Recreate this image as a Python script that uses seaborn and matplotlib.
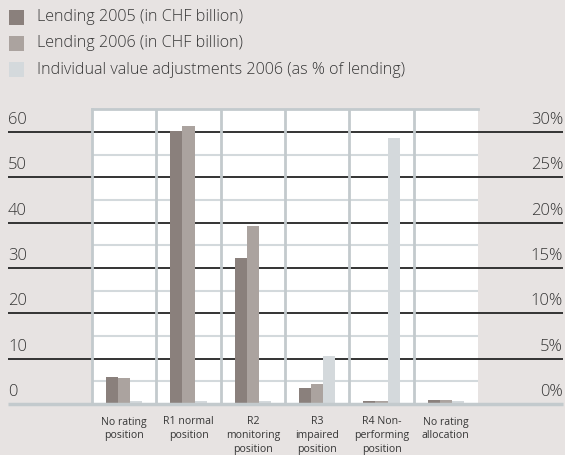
import matplotlib
matplotlib.use('Agg')
import matplotlib.pyplot as plt
import matplotlib.transforms as mtransforms
import seaborn as sns
import pandas as pd

# categories and values
categories = ['No rating\nposition', 'R1 normal\nposition', 'R2\nmonitoring\nposition',
              'R3\nimpaired\nposition', 'R4 Non-\nperforming\nposition', 'No rating\nallocation']
lending_2005 = [6.0, 60.2, 32.2, 3.6, 0.6, 0.9]      # CHF billion
lending_2006 = [5.7, 61.3, 39.3, 4.5, 0.6, 0.9]      # CHF billion
value_adj_2006 = [0.3, 0.3, 0.3, 5.3, 29.3, 0.3]     # % of lending

series_names = ['Lending 2005 (in CHF billion)',
                'Lending 2006 (in CHF billion)',
                'Individual value adjustments 2006 (as % of lending)']
left_ticks = [0, 10, 20, 30, 40, 50, 60]
right_ticks = ['0%', '5%', '10%', '15%', '20%', '25%', '30%']

colors = ['#8a807c', '#aba39f', '#d4d9dc']
bg = '#e7e3e2'
grid_col = '#c3cacd'
line_col = '#333333'
text_col = '#363636'

# one left-axis scale: 30% lines up with 60
pct_to_left = 2.0

rows = []
for i, cat in enumerate(categories):
    rows.append((cat, series_names[0], lending_2005[i]))
    rows.append((cat, series_names[1], lending_2006[i]))
    rows.append((cat, series_names[2], value_adj_2006[i] * pct_to_left))
df = pd.DataFrame(rows, columns=['category', 'series', 'value'])

sns.set_style('white')
plt.rcParams['font.family'] = ['Open Sans', 'DejaVu Sans']

W, H = 565, 455
fig = plt.figure(figsize=(W / 100, H / 100), dpi=100, facecolor=bg)
ax = fig.add_axes([92 / W, (H - 404) / H, (478 - 92) / W, (404 - 109) / H])
ax.set_facecolor('white')

sns.barplot(data=df, x='category', y='value', hue='series', order=categories,
            hue_order=series_names, palette=colors, saturation=1, width=0.56,
            gap=0, linewidth=0, ax=ax, legend=False, zorder=3)

ax.set_xlim(-0.5, len(categories) - 0.5)
ax.set_ylim(0, 65.1)
ax.set_xlabel('')
ax.set_ylabel('')
ax.set_yticks([])
ax.tick_params(axis='x', length=0, pad=9, labelsize=7.6, labelcolor=text_col)
for lab in ax.get_xticklabels():
    lab.set_linespacing(1.36)
    lab.set_va('top')

for side in ['right', 'bottom']:
    ax.spines[side].set_visible(False)
for side in ['left', 'top']:
    ax.spines[side].set_color(grid_col)
    ax.spines[side].set_linewidth(2)

# category separators and minor horizontal grid
for k in range(1, len(categories)):
    ax.axvline(k - 0.5, color=grid_col, lw=2, zorder=2.5)
for v in range(5, 65, 10):
    ax.axhline(v, color='#d3d9dc', lw=1.5, zorder=1)

# long horizontal lines across the whole figure with labels
blend = mtransforms.blended_transform_factory(fig.transFigure, ax.transData)
for v, rlab in zip(left_ticks, right_ticks):
    c = grid_col if v == 0 else line_col
    lw = 2.5 if v == 0 else 1.4
    ax.plot([8 / W, 563 / W], [v, v], transform=blend, color=c, lw=lw,
            clip_on=False, zorder=2 if v else 4, solid_capstyle='butt')
    ax.text(8 / W, v + 0.9, str(v), transform=blend, ha='left', va='bottom',
            fontsize=12, fontweight='light', color=text_col)
    ax.text(563 / W, v + 0.9, rlab, transform=blend, ha='right', va='bottom',
            fontsize=12, fontweight='light', color=text_col)

# legend at the top left
for i, (name, col) in enumerate(zip(series_names, colors)):
    yc = 1 - (17 + 26.3 * i) / H
    fig.patches.append(plt.Rectangle((9 / W, yc - 7.5 / H), 15 / W, 15 / H,
                                     transform=fig.transFigure, color=col, lw=0))
    fig.text(37 / W, yc, name, ha='left', va='center', fontsize=11.6,
             fontweight='light', color=text_col)

fig.savefig('out.png', dpi=100, facecolor=bg)
